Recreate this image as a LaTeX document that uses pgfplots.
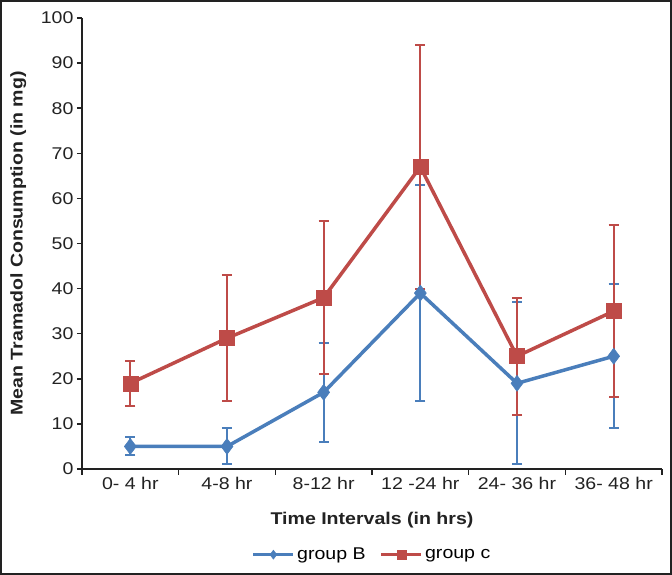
\documentclass[border=0pt]{standalone}
\usepackage{fontspec}
\setmainfont{Liberation Sans}[FakeStretch=1.15]
\usepackage{pgfplots}
\usepackage{pgfplotstable}
\pgfplotsset{compat=1.18}
\definecolor{cB}{HTML}{4A7EBB}
\definecolor{cC}{HTML}{BE4B48}
\definecolor{axc}{HTML}{222222}
\pgfplotstableread{
x y e
0 5 2
1 5 4
2 17 11
3 39 24
4 19 18
5 25 16
}\groupB
\pgfplotstableread{
x y e
0 19 5
1 29 14
2 38 17
3 67 27
4 25 13
5 35 19
}\groupC
\begin{document}
\begin{tikzpicture}
\begin{axis}[
  scale only axis, width=580pt, height=451pt,
  xmin=-0.5, xmax=5.5, ymin=0, ymax=100,
  axis x line*=bottom, axis y line*=left,
  axis line style={-, line width=1.5pt, draw=axc},
  ytick={0,10,...,100},
  xtick={0,...,5},
  xticklabels={0- 4 hr, 4-8 hr, 8-12 hr, 12 -24 hr, 24- 36 hr, 36- 48 hr},
  minor xtick={-0.5,0.5,...,5.5},
  tick align=outside,
  major tick length=5pt, minor tick length=6pt,
  major x tick style={draw=none},
  minor x tick style={line width=1.5pt, draw=axc},
  major y tick style={line width=1.5pt, draw=axc},
  /pgf/number format/assume math mode=true,
  tick label style={font=\fontsize{17}{20}\selectfont, text=axc},
  xlabel={Time Intervals (in hrs)},
  ylabel={Mean Tramadol Consumption (in mg)},
  every axis x label/.style={at={(axis description cs:0.5,-0.113)}, anchor=center,
    font=\bfseries\fontsize{17}{20}\selectfont, text=axc},
  every axis y label/.style={at={(axis description cs:-0.110,0.5)}, anchor=center, rotate=90,
    font=\bfseries\fontsize{17}{20}\selectfont, text=axc},
  legend style={at={(axis description cs:0.5,-0.19)}, anchor=center, draw=none,
    font=\fontsize{17}{20}\selectfont, legend columns=2,
    /tikz/every even column/.append style={column sep=12pt}},
  legend image code/.code={\draw[mark repeat=2, mark phase=2, mark size=4.5pt] plot coordinates {(0pt,0pt) (20pt,0pt) (40pt,0pt)};},
  every error bar/.style={line width=2pt},
  clip=false,
]
\addplot[forget plot, draw=none, mark=none,
  error bars/.cd, y dir=both, y explicit,
  error bar style={draw=cB, line width=2pt},
  error mark options={rotate=90, mark size=5pt, line width=2pt, draw=cB}]
  table[x=x, y=y, y error=e] {\groupB};
\addplot[forget plot, draw=none, mark=none,
  error bars/.cd, y dir=both, y explicit,
  error bar style={draw=cC, line width=2pt},
  error mark options={rotate=90, mark size=5pt, line width=2pt, draw=cC}]
  table[x=x, y=y, y error=e] {\groupC};
\addplot[cB, line width=3.5pt, mark=diamond*, mark size=8pt,
  mark options={solid, fill=cB, draw=cB, line width=0.5pt}]
  table[x=x, y=y] {\groupB};
\addlegendentry{group B}
\addplot[cC, line width=3.5pt, mark=square*, mark size=7.5pt,
  mark options={solid, fill=cC, draw=cC, line width=0.5pt}]
  table[x=x, y=y] {\groupC};
\addlegendentry{group c}
\end{axis}
\draw[line width=2pt, draw=axc] (-81pt,-105pt) rectangle (589pt,468pt);
\end{tikzpicture}
\end{document}
